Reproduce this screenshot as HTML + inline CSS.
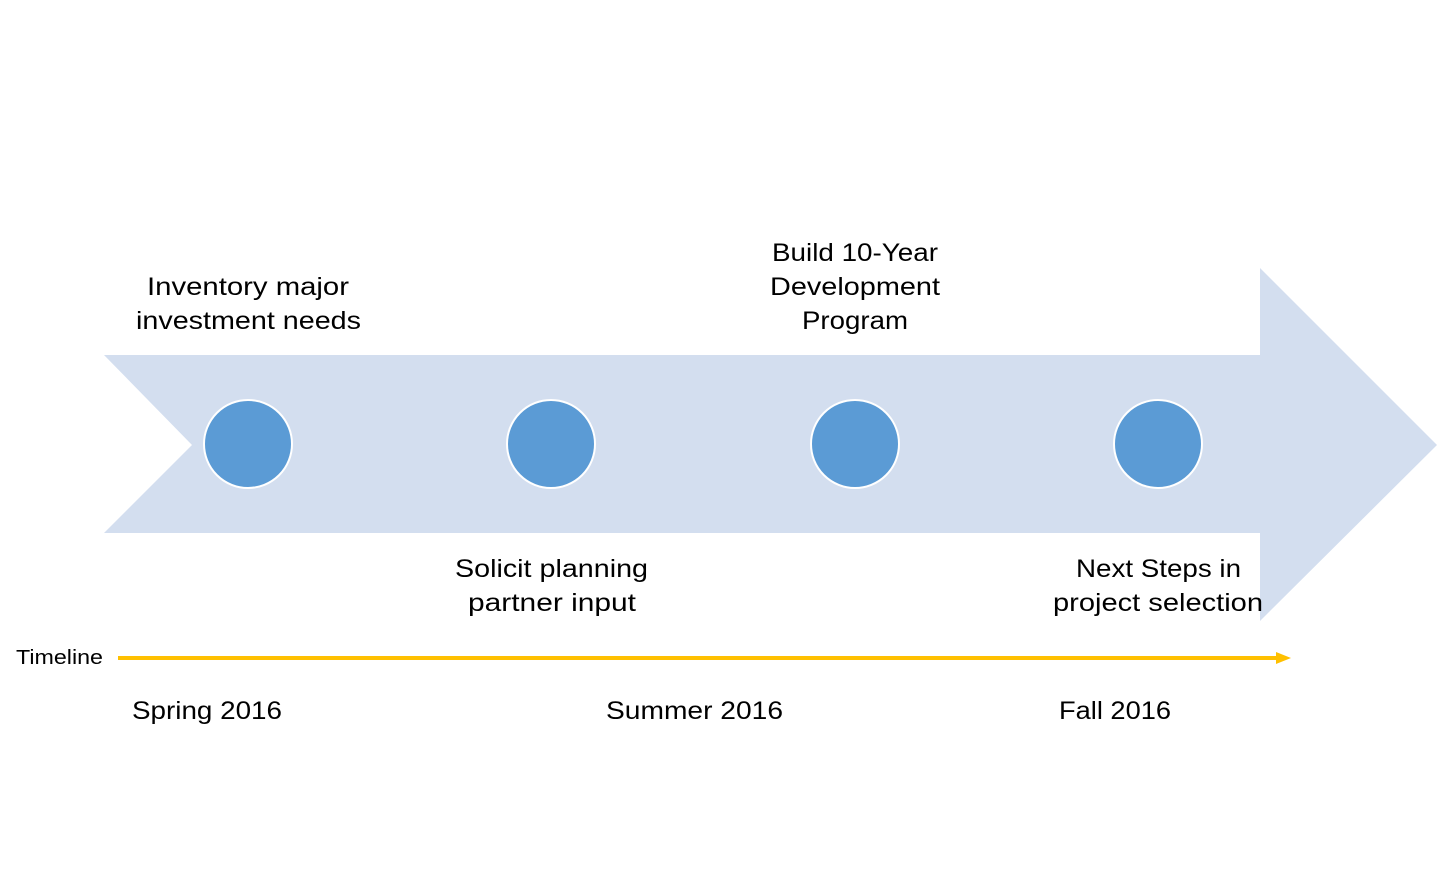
<!DOCTYPE html>
<html><head><meta charset="utf-8"><style>html,body{margin:0;padding:0;background:#fff}svg{display:block}</style></head>
<body>
<svg width="1437" height="889" viewBox="0 0 1437 889" xmlns="http://www.w3.org/2000/svg" font-family="'Liberation Sans', sans-serif" fill="#000">
<polygon points="104,355 1260,355 1260,268 1437,445 1260,621 1260,533 104,533 192,445" fill="#D3DEEF"/>
<g fill="#5B9BD5" stroke="#fff" stroke-width="2">
<circle cx="248" cy="444" r="44"/>
<circle cx="551" cy="444" r="44"/>
<circle cx="855" cy="444" r="44"/>
<circle cx="1158" cy="444" r="44"/>
</g>
<line x1="118" y1="658" x2="1278" y2="658" stroke="#FFC000" stroke-width="4"/>
<polygon points="1276,652 1291,658 1276,664" fill="#FFC000"/>
<g font-size="25" lengthAdjust="spacingAndGlyphs">
<text x="147" y="295" textLength="202" lengthAdjust="spacingAndGlyphs">Inventory major</text>
<text x="136" y="329" textLength="225" lengthAdjust="spacingAndGlyphs">investment needs</text>
<text x="772" y="261" textLength="166" lengthAdjust="spacingAndGlyphs">Build 10-Year</text>
<text x="770" y="295" textLength="170" lengthAdjust="spacingAndGlyphs">Development</text>
<text x="802" y="329" textLength="106" lengthAdjust="spacingAndGlyphs">Program</text>
<text x="455" y="577" textLength="193" lengthAdjust="spacingAndGlyphs">Solicit planning</text>
<text x="468" y="611" textLength="168" lengthAdjust="spacingAndGlyphs">partner input</text>
<text x="1076" y="577" textLength="165" lengthAdjust="spacingAndGlyphs">Next Steps in</text>
<text x="1053" y="611" textLength="210" lengthAdjust="spacingAndGlyphs">project selection</text>
<text x="132" y="719" textLength="150" lengthAdjust="spacingAndGlyphs">Spring 2016</text>
<text x="606" y="719" textLength="177" lengthAdjust="spacingAndGlyphs">Summer 2016</text>
<text x="1059" y="719" textLength="112" lengthAdjust="spacingAndGlyphs">Fall 2016</text>
</g>
<text x="16" y="664" font-size="20" textLength="87" lengthAdjust="spacingAndGlyphs">Timeline</text>
</svg>
</body></html>
